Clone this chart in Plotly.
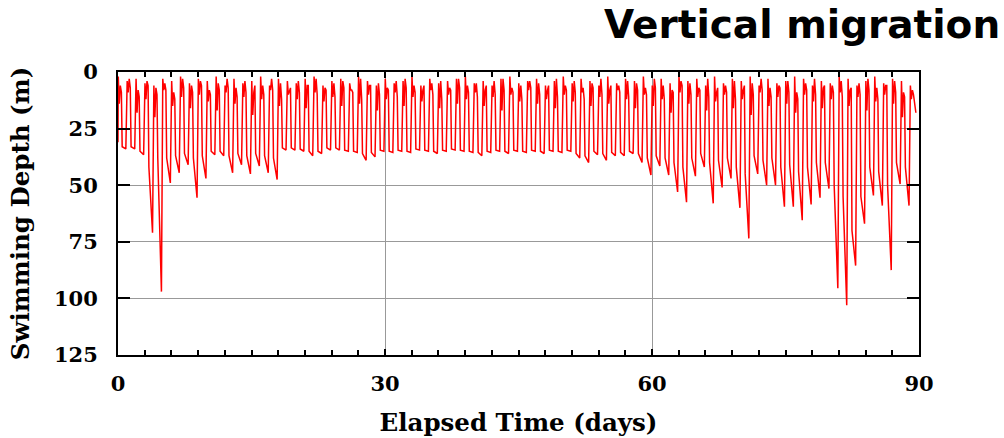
import plotly.graph_objects as go

# ---- data (depth in metres, per day of record) ----
start_time = 0.0
start_depth = 31

# deepest depth reached in each daytime dive (days 0..88)
deep_max = [34, 34, 36.5, 71, 97, 49, 44.5, 41, 55.5, 47,
            36.5, 37, 44.5, 41, 45, 41.5, 44.5, 47.5, 34.5, 34.5,
            35, 37, 36, 34.5, 34.5, 35, 35.5, 39, 37.5, 35,
            35.5, 35, 35.5, 34.5, 35, 36, 35, 34.5, 35, 35.5,
            37, 35.5, 35, 36, 35, 35.5, 35, 36, 35, 35.5,
            35, 38, 40, 36.5, 39, 37, 37, 36, 40, 45.5,
            41.5, 45.5, 53, 57.5, 46, 42, 58, 51, 47, 60,
            73.5, 45, 50, 50, 59.5, 59.5, 65.5, 58.5, 55.5, 51.5,
            95.5, 103, 85.5, 67, 54.5, 59, 87.5, 49.5, 59]

# depth at the start of each daytime (deep) phase
deep_start = [33, 33, 35, 42, 38, 38, 37, 36, 38, 37,
              35, 35, 37, 36, 37, 36, 37, 38, 33.5, 33.5,
              34, 35, 35, 33.5, 33.5, 34.5, 35, 36, 35.5, 34.5,
              35, 34.5, 35, 34, 34.5, 35, 34.5, 34, 34.5, 35,
              35.5, 35, 34.5, 35, 34.5, 35, 34.5, 35, 34.5, 35,
              34.5, 36, 37, 35, 36, 35.5, 35.5, 35, 36, 38,
              37, 38, 40, 42, 38, 36, 40, 39, 38, 42,
              45, 37, 39, 38, 42, 41, 44, 42, 40, 40,
              50, 55, 70, 55, 42, 44, 50, 40, 42]

# night-time (shallow) readings, four per night (days 0..89)
night_a = [2, 4, 3, 5, 6, 3, 4, 2, 5, 3,
           4, 2, 6, 3, 5, 4, 2, 6, 3, 4,
           5, 3, 2, 6, 4, 3, 5, 2, 4, 6,
           3, 5, 4, 2, 6, 3, 5, 4, 3, 2,
           5, 4, 6, 3, 2, 5, 4, 3, 6, 4,
           2, 5, 3, 4, 6, 2, 5, 3, 4, 2,
           6, 3, 5, 2, 4, 3, 6, 2, 5, 3,
           4, 2, 6, 3, 5, 4, 2, 3, 6, 4,
           5, 2, 3, 6, 4, 2, 5, 3, 4, 6]
night_b = [14, 9, 18, 12, 20, 8, 15, 11, 16, 10,
           13, 17, 9, 14, 11, 19, 12, 8, 15, 10,
           12, 16, 9, 13, 11, 15, 8, 14, 10, 17,
           12, 9, 15, 11, 13, 8, 16, 10, 14, 12,
           9, 15, 11, 17, 10, 13, 8, 14, 12, 16,
           10, 13, 9, 15, 11, 14, 8, 12, 16, 10,
           15, 12, 18, 9, 14, 11, 17, 13, 10, 16,
           12, 19, 9, 15, 11, 14, 18, 10, 13, 16,
           12, 9, 15, 11, 17, 13, 10, 14, 20, 12]
night_c = [6, 3, 8, 4, 7, 5, 9, 3, 6, 4,
           8, 5, 3, 7, 4, 9, 6, 3, 5, 8,
           4, 6, 3, 7, 5, 4, 8, 3, 6, 5,
           7, 4, 3, 6, 8, 5, 4, 7, 3, 6,
           5, 8, 4, 3, 7, 6, 4, 5, 8, 3,
           6, 4, 7, 5, 3, 8, 6, 4, 5, 7,
           3, 6, 8, 4, 5, 7, 3, 9, 6, 4,
           8, 5, 3, 7, 6, 4, 9, 5, 3, 7,
           6, 4, 8, 5, 3, 7, 6, 4, 9, 8]
night_d = [9, 7, 11, 6, 10, 8, 12, 7, 9, 6,
           10, 8, 7, 11, 9, 6, 10, 8, 12, 7,
           9, 6, 10, 8, 11, 7, 9, 12, 6, 10,
           8, 11, 7, 9, 6, 10, 12, 8, 7, 9,
           11, 6, 10, 8, 9, 12, 7, 10, 6, 11,
           8, 9, 12, 7, 10, 6, 9, 11, 8, 10,
           7, 12, 9, 6, 10, 8, 11, 7, 9, 12,
           6, 10, 8, 11, 7, 9, 12, 8, 10, 6,
           9, 11, 7, 10, 8, 12, 6, 9, 11, 10]

end_time = 89.65
end_depth = 18

# phase of day at which each reading was taken
phase_night = [0.03, 0.14, 0.26, 0.38]
phase_deep = [0.47, 0.88]

x_ticks = [0, 30, 60, 90]
y_ticks = [0, 25, 50, 75, 100, 125]

# ---- build the time series ----
t, d = [start_time], [start_depth]
for i in range(len(night_a)):
    for ph, val in zip(phase_night, (night_a[i], night_b[i], night_c[i], night_d[i])):
        t.append(i + ph)
        d.append(val)
    if i < len(deep_max):
        t.append(i + phase_deep[0]); d.append(deep_start[i])
        t.append(i + phase_deep[1]); d.append(deep_max[i])
t.append(end_time); d.append(end_depth)

fig = go.Figure()
fig.add_trace(go.Scatter(x=t, y=d, mode="lines",
                         line=dict(color="#ff0000", width=1.5),
                         showlegend=False, hoverinfo="skip"))

tick_font = dict(family="DejaVu Serif", size=21, color="black", weight="bold")
title_font = dict(family="DejaVu Serif", size=24.5, color="black", weight="bold")

fig.update_layout(
    width=1004, height=438,
    margin=dict(l=118, r=85, t=72, b=83, autoexpand=False),
    paper_bgcolor="white", plot_bgcolor="white",
    xaxis=dict(range=[0, 90], tickvals=x_ticks, ticktext=[str(v) for v in x_ticks],
               automargin=False,
               ticks="inside", ticklen=6, tickwidth=1.5, tickcolor="black",
               showline=True, linewidth=2, linecolor="black", mirror="ticks",
               showgrid=True, gridcolor="#999999", gridwidth=1,
               zeroline=False, tickfont=tick_font, ticklabelstandoff=9,
               minor=dict(dtick=3, ticks="inside", ticklen=5, tickwidth=1.5,
                          tickcolor="black", showgrid=False),
               title=dict(text="Elapsed Time (days)", font=title_font, standoff=19)),
    yaxis=dict(range=[125, 0], tickvals=y_ticks, ticktext=[str(v) for v in y_ticks],
               automargin=False,
               ticks="inside", ticklen=12, tickwidth=2, tickcolor="black",
               showline=True, linewidth=2, linecolor="black", mirror="ticks",
               showgrid=True, gridcolor="#999999", gridwidth=1,
               zeroline=False, tickfont=tick_font, ticklabelstandoff=14,
               title=dict(text="Swimming Depth (m)", font=title_font, standoff=17)),
    annotations=[dict(text="Vertical migration", xref="paper", yref="paper",
                      x=1.1036, y=1.2527, xanchor="right", yanchor="top",
                      showarrow=False,
                      font=dict(family="DejaVu Sans", size=39, color="black", weight="bold"))],
)

fig.write_html("out.html", config={"displayModeBar": False},
               post_script="document.body.style.margin='0px';document.body.style.padding='0px';")
